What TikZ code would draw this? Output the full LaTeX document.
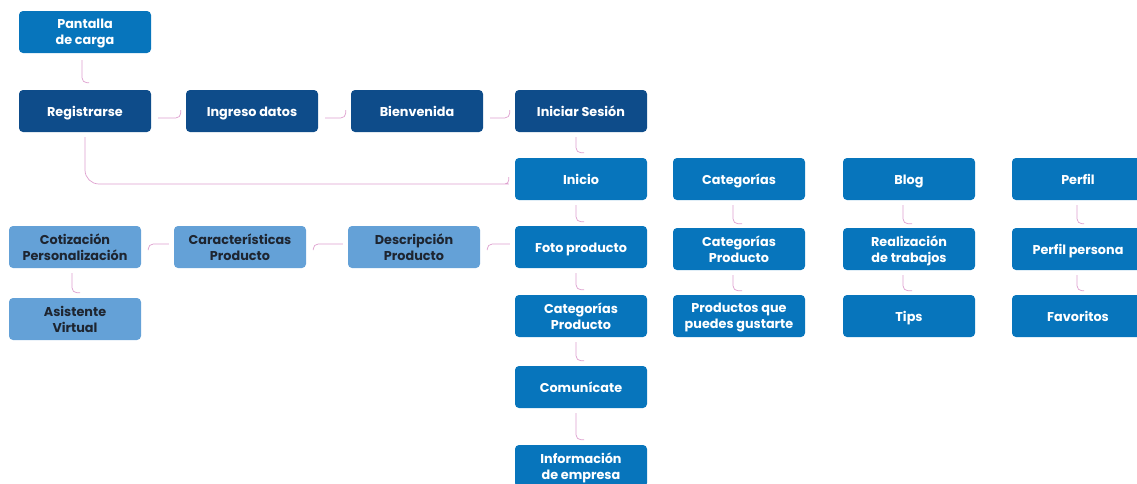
\documentclass[tikz,border=0pt]{standalone}
\usepackage{fontspec}
\setmainfont{Poppins}
\usepackage{tikz}
\usetikzlibrary{positioning}

\definecolor{navy}{RGB}{14,76,138}
\definecolor{midblue}{RGB}{7,117,188}
\definecolor{paleblue}{RGB}{100,161,215}
\definecolor{inkdark}{RGB}{30,37,48}
\definecolor{linkpink}{RGB}{222,160,206}

\begin{document}
\begin{tikzpicture}[x=1pt, y=-1pt,
		box/.style={rounded corners=4pt, minimum width=132pt, minimum height=42pt, inner sep=0pt,
			align=center, text=white, text depth=0pt, font=\fontsize{12.8}{16}\selectfont\bfseries},
		solo/.style={text height=10pt},
		dark/.style={box, fill=navy},
		mid/.style={box, fill=midblue},
		pale/.style={box, fill=paleblue, text=inkdark},
		link/.style={draw=linkpink, line width=0.7pt, rounded corners=5pt}]
		\useasboundingbox (0,0) rectangle (1137,483);
		
		% Entry and login chain
		\node[mid]        (pan)  at (85,32)   {Pantalla\\de carga};
		\node[dark, solo] (reg)  at (85,111)  {Registrarse};
		\node[dark, solo] (ing)  at (252,111) {Ingreso datos};
		\node[dark, solo] (bien) at (417,111) {Bienvenida};
		\node[dark, solo] (ses)  at (581,111) {Iniciar Sesión};
		
		% Main column
		\node[mid, solo] (ini)  at (581,179) {Inicio};
		\node[mid, solo] (foto) at (581,247) {Foto producto};
		\node[mid]       (catp) at (581,316) {Categorías\\Producto};
		\node[mid, solo] (com)  at (581,387) {Comunícate};
		\node[mid]       (info) at (581,466) {Información\\de empresa};
		
		% Product detail branch (leftwards)
		\node[pale] (desc) at (414,247) {Descripción\\Producto};
		\node[pale] (cara) at (240,247) {Características\\Producto};
		\node[pale] (coti) at (75,247)  {Cotización\\Personalización};
		\node[pale] (asis) at (75,319)  {Asistente\\Virtual};
		
		% Other sections
		\node[mid, solo] (cat)   at (739,179)  {Categorías};
		\node[mid]       (catp2) at (739,249)  {Categorías\\Producto};
		\node[mid]       (prod)  at (739,316)  {Productos que\\puedes gustarte};
		\node[mid, solo] (blog)  at (909,179)  {Blog};
		\node[mid]       (real)  at (909,249)  {Realización\\de trabajos};
		\node[mid, solo] (tips)  at (909,316)  {Tips};
		\node[mid, solo] (perf)  at (1078,179) {Perfil};
		\node[mid, solo] (perfp) at (1078,249) {Perfil persona};
		\node[mid, solo] (fav)   at (1078,316) {Favoritos};
		
		% Downward links
		\draw[link] ([xshift=-3pt,yshift=-7pt]pan.south) |- ([xshift=4pt,yshift=7pt]reg.north);
		\draw[link] ([xshift=-5pt,yshift=-5pt]ses.south) |- ([xshift=3pt,yshift=5pt]ini.north);
		\draw[link] ([xshift=-5pt,yshift=-5pt]ini.south) |- ([xshift=3pt,yshift=4pt]foto.north);
		\draw[link] ([xshift=-5pt,yshift=-5pt]foto.south) |- ([xshift=3pt,yshift=5pt]catp.north);
		\draw[link] ([xshift=-5pt,yshift=-5pt]catp.south) |- ([xshift=3pt,yshift=5pt]com.north);
		\draw[link] ([xshift=-5pt,yshift=-5pt]com.south) |- ([xshift=3pt,yshift=5pt]info.north);
		\draw[link] ([xshift=-6pt,yshift=-5pt]cat.south) |- ([xshift=3pt,yshift=4pt]catp2.north);
		\draw[link] ([xshift=-6pt,yshift=-5pt]catp2.south) |- ([xshift=3pt,yshift=4pt]prod.north);
		\draw[link] ([xshift=-6pt,yshift=-5pt]blog.south) |- ([xshift=3pt,yshift=4pt]real.north);
		\draw[link] ([xshift=-6pt,yshift=-5pt]real.south) |- ([xshift=3pt,yshift=4pt]tips.north);
		\draw[link] ([xshift=-1pt,yshift=-5pt]perf.south) |- ([xshift=6pt,yshift=4pt]perfp.north);
		\draw[link] ([xshift=-1pt,yshift=-5pt]perfp.south) |- ([xshift=6pt,yshift=4pt]fav.north);
		\draw[link] ([xshift=-3pt,yshift=-5pt]coti.south) |- ([xshift=5pt,yshift=5pt]asis.north);
		
		% Sideways links
		\draw[link] ([xshift=7pt,yshift=-7pt]reg.east) -| ([xshift=-5pt,yshift=1pt]ing.west);
		\draw[link] ([xshift=7pt,yshift=-7pt]ing.east) -| ([xshift=-5pt,yshift=1pt]bien.west);
		\draw[link] ([xshift=7pt,yshift=-7pt]bien.east) -| ([xshift=-5pt,yshift=1pt]ses.west);
		\draw[link] ([xshift=-5pt,yshift=3pt]foto.west) -| ([xshift=7pt,yshift=-3pt]desc.east);
		\draw[link] ([xshift=-5pt,yshift=3pt]desc.west) -| ([xshift=7pt,yshift=-3pt]cara.east);
		\draw[link] ([xshift=-5pt,yshift=3pt]cara.west) -| ([xshift=7pt,yshift=-3pt]coti.east);
		
		% Registrarse straight to Inicio
		\draw[link, rounded corners=14pt] ([yshift=-5pt]reg.south) |- ([xshift=-20pt,yshift=-5pt]ini.west)
			[rounded corners=4pt] -| ([xshift=-6pt,yshift=2pt]ini.west);
	\end{tikzpicture}
\end{document}
